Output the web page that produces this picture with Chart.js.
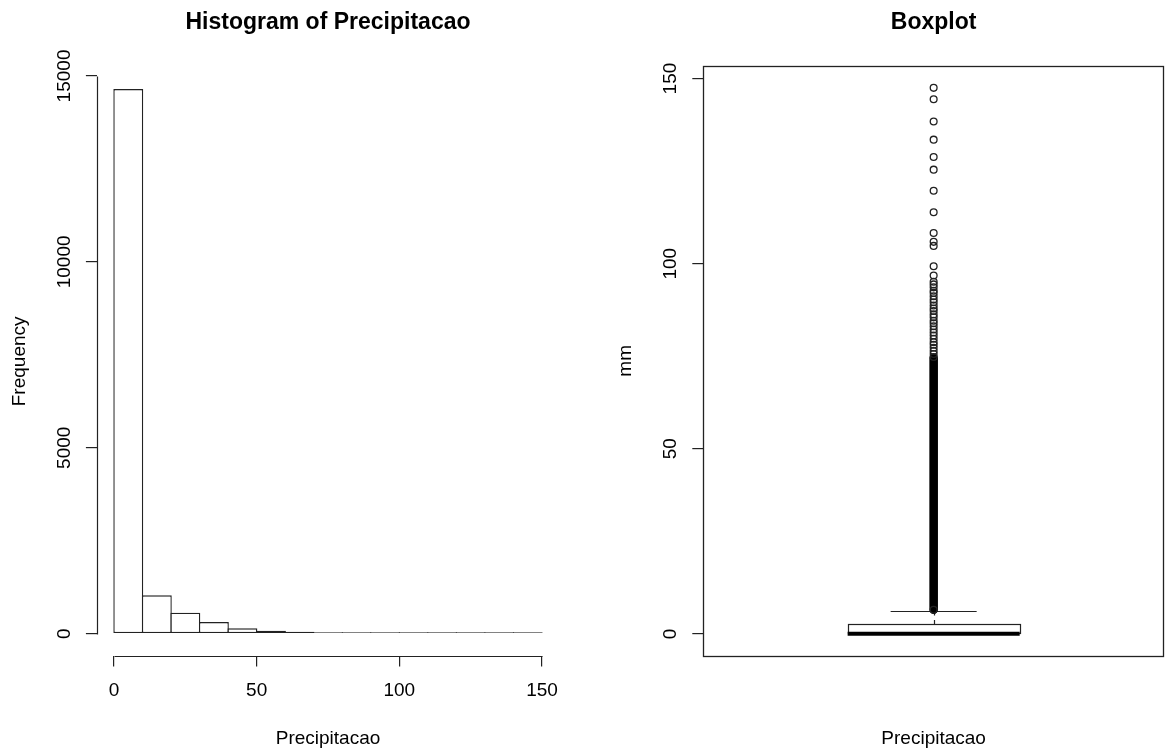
<!DOCTYPE html>
<html><head><meta charset="utf-8">
<script src="https://cdn.jsdelivr.net/npm/chart.js@4.4.0/dist/chart.umd.min.js"></script>
<style>
html,body{margin:0;padding:0;background:#fff;}
#wrap{position:relative;width:1165px;height:751px;background:#fff;}
canvas{position:absolute;top:0;}
#hist{left:0;} #box{left:582px;}
</style></head><body>
<div id="wrap"><canvas id="hist" width="582" height="751"></canvas><canvas id="box" width="583" height="751"></canvas></div>
<script>
// ---------------- data ----------------
const histBinEdges = [0,10,20,30,40,50,60,70,80,90,100,110,120,130,140,150];
const histCounts   = [14650,1035,567,315,145,80,52,28,22,17,12,2,6,2,2];
const histXTicks   = [0,50,100,150];
const histYTicks   = [0,5000,10000,15000];

const boxQuartiles = [0, 0, 2.55];   // Q1, median, Q3
const boxWhiskers  = [0, 6.2];       // lower, upper whisker ends
const boxOutliers  = [147.5,144.4,138.4,133.5,128.8,125.4,119.7,113.9,108.3,105.9,104.8,99.3,96.8,
                      95.1,94.4,93.6,92.7,92.1,91.2,90.3,89.6,88.7,87.9,87.2,86.3,85.5,84.6,83.9,
                      83.1,82.2,81.4,80.6,79.7,78.8,78.1,77.3,76.4,75.6,74.8,6.5];
const boxDenseOutlierRange = [6.5, 74.5]; // outliers so dense they form a solid column
const boxYTicks    = [0,50,100,150];
const boxGroupX    = 1;

// ---------------- helpers ----------------
const FONT = '"Liberation Sans", Arial, Helvetica, sans-serif';
Chart.defaults.font.family = FONT;
function txt(ctx, s, x, y, o) {
  o = o || {};
  ctx.save();
  ctx.translate(x, y);
  if (o.rot) ctx.rotate(o.rot);
  ctx.font = (o.bold ? 'bold ' : '') + (o.size || 19) + 'px ' + FONT;
  ctx.fillStyle = '#000';
  ctx.textAlign = 'center';
  ctx.textBaseline = 'alphabetic';
  ctx.fillText(s, 0, 0);
  ctx.restore();
}
const px = v => Math.round(v) + 0.5;
const tickGrid = {display:true, drawOnChartArea:false, drawTicks:true, tickLength:11, color:'#222', lineWidth:1.2};
const LINE = '#222';

// ---------------- histogram ----------------
const hMax = Math.max(...histCounts);
const hxSpan = histBinEdges[histBinEdges.length-1] - histBinEdges[0];
const histPlugin = {
  id: 'histDecor',
  afterDraw(chart) {
    const ctx = chart.ctx, ca = chart.chartArea, xs = chart.scales.x, ys = chart.scales.y;
    const cx = (ca.left + ca.right) / 2;
    txt(ctx, 'Histogram of Precipitacao', cx, 28.5, {size:23, bold:true});
    txt(ctx, 'Precipitacao', cx, 744);
    txt(ctx, 'Frequency', 25, (ca.top + ca.bottom) / 2, {rot:-Math.PI/2});
    histYTicks.forEach(v => txt(ctx, String(v), ca.left - 27, ys.getPixelForValue(v), {rot:-Math.PI/2}));
    ctx.save();
    ctx.strokeStyle = LINE; ctx.lineWidth = 1.2;
    ctx.beginPath();
    ctx.moveTo(px(ca.left), px(ys.getPixelForValue(histYTicks[0])));
    ctx.lineTo(px(ca.left), px(ys.getPixelForValue(histYTicks[histYTicks.length-1])));
    ctx.moveTo(px(xs.getPixelForValue(histXTicks[0])), px(ca.bottom));
    ctx.lineTo(px(xs.getPixelForValue(histXTicks[histXTicks.length-1])), px(ca.bottom));
    ctx.stroke();
    ctx.restore();
  }
};

new Chart(document.getElementById('hist'), {
  type: 'bar',
  data: {
    datasets: [{
      data: histCounts.map((c, i) => ({x: (histBinEdges[i] + histBinEdges[i+1]) / 2, y: c})),
      backgroundColor: '#fff',
      borderColor: LINE,
      borderWidth: 1.4,
      borderSkipped: false,
      barPercentage: 1.049,
      categoryPercentage: 1,
      minBarLength: 1.4,
      inflateAmount: 0
    }]
  },
  options: {
    responsive: false, animation: false, devicePixelRatio: 1,
    layout: {autoPadding: false, padding: {top: 67.2, right: 22.9, bottom: 0, left: 0}},
    plugins: {legend: {display:false}, tooltip: {enabled:false}, title: {display:false}},
    scales: {
      x: {
        type: 'linear', offset: false,
        min: histBinEdges[0] - 0.04 * hxSpan,
        max: histBinEdges[histBinEdges.length-1] + 0.04 * hxSpan,
        afterBuildTicks: s => { s.ticks = histXTicks.map(v => ({value: v})); },
        afterFit: s => { s.height = 95.5; },
        grid: Object.assign({offset:false}, tickGrid),
        border: {display:false},
        ticks: {color:'#000', font:{size:19, family:FONT}, padding:13, maxRotation:0, autoSkip:false,
                callback: v => String(v)}
      },
      y: {
        type: 'linear',
        min: -0.04 * hMax, max: 1.04 * hMax,
        afterBuildTicks: s => { s.ticks = histYTicks.map(v => ({value: v})); },
        afterFit: s => { s.width = 96.9; },
        grid: tickGrid,
        border: {display:false},
        ticks: {display:false}
      }
    }
  },
  plugins: [histPlugin]
});

// ---------------- boxplot ----------------
const bAll = boxOutliers.concat(boxWhiskers, boxQuartiles);
const bLo = Math.min(...bAll), bHi = Math.max(...bAll), bSpan = bHi - bLo;
const boxHalfWidth = 0.1867;

const boxPlugin = {
  id: 'boxDecor',
  beforeDatasetsDraw(chart) {
    const ctx = chart.ctx, xs = chart.scales.x, ys = chart.scales.y;
    const xl = xs.getPixelForValue(boxGroupX - boxHalfWidth);
    const xr = xs.getPixelForValue(boxGroupX + boxHalfWidth);
    const xc = xs.getPixelForValue(boxGroupX);
    const cl = xs.getPixelForValue(boxGroupX - boxHalfWidth / 2);
    const cr = xs.getPixelForValue(boxGroupX + boxHalfWidth / 2);
    const yq1 = ys.getPixelForValue(boxQuartiles[0]);
    const ymed = ys.getPixelForValue(boxQuartiles[1]);
    const yq3 = ys.getPixelForValue(boxQuartiles[2]);
    const ywl = ys.getPixelForValue(boxWhiskers[0]);
    const ywh = ys.getPixelForValue(boxWhiskers[1]);
    ctx.save();
    ctx.strokeStyle = LINE; ctx.lineWidth = 1.2;
    // whiskers (dashed)
    ctx.setLineDash([4.5, 4.5]);
    ctx.beginPath();
    ctx.moveTo(px(xc), yq3); ctx.lineTo(px(xc), ywh);
    ctx.moveTo(px(xc), yq1); ctx.lineTo(px(xc), ywl);
    ctx.stroke();
    ctx.setLineDash([]);
    // staples
    ctx.beginPath();
    ctx.moveTo(cl, px(ywh)); ctx.lineTo(cr, px(ywh));
    ctx.moveTo(cl, px(ywl)); ctx.lineTo(cr, px(ywl));
    ctx.stroke();
    // box
    ctx.fillStyle = '#fff';
    ctx.fillRect(xl, yq3, xr - xl, yq1 - yq3);
    ctx.strokeRect(px(xl), px(yq3), Math.round(xr - xl), Math.max(Math.round(yq1 - yq3), 0));
    // median
    ctx.strokeStyle = '#000';
    ctx.lineWidth = 4; ctx.lineCap = 'butt';
    ctx.beginPath(); ctx.moveTo(xl, ymed); ctx.lineTo(xr, ymed); ctx.stroke();
    // dense outlier column
    ctx.lineWidth = 8.6; ctx.lineCap = 'round';
    ctx.beginPath();
    ctx.moveTo(xc, ys.getPixelForValue(boxDenseOutlierRange[0]));
    ctx.lineTo(xc, ys.getPixelForValue(boxDenseOutlierRange[1]));
    ctx.stroke();
    ctx.restore();
  },
  afterDraw(chart) {
    const ctx = chart.ctx, ca = chart.chartArea, ys = chart.scales.y;
    const cx = (ca.left + ca.right) / 2;
    ctx.save();
    ctx.strokeStyle = LINE; ctx.lineWidth = 1.3;
    ctx.strokeRect(px(ca.left), px(ca.top), Math.round(ca.right - ca.left) - 1, Math.round(ca.bottom - ca.top));
    ctx.restore();
    txt(ctx, 'Boxplot', cx, 28.5, {size:23, bold:true});
    txt(ctx, 'Precipitacao', cx, 744);
    txt(ctx, 'mm', ca.left - 72.7, (ca.top + ca.bottom) / 2, {rot:-Math.PI/2});
    boxYTicks.forEach(v => txt(ctx, String(v), ca.left - 27.5, ys.getPixelForValue(v), {rot:-Math.PI/2}));
  }
};

new Chart(document.getElementById('box'), {
  type: 'scatter',
  data: {
    datasets: [{
      data: boxOutliers.map(v => ({x: boxGroupX, y: v})),
      pointStyle: 'circle',
      pointRadius: 3.4,
      pointBorderWidth: 1.3,
      pointBorderColor: LINE,
      pointBackgroundColor: 'rgba(0,0,0,0)',
      showLine: false
    }]
  },
  options: {
    responsive: false, animation: false, devicePixelRatio: 1,
    layout: {autoPadding: false, padding: {top: 66, right: 1, bottom: 95.3, left: 0}},
    plugins: {legend: {display:false}, tooltip: {enabled:false}, title: {display:false}},
    scales: {
      x: {type: 'linear', min: 0.5, max: 1.5, display: false},
      y: {
        type: 'linear',
        min: bLo - 0.04 * bSpan, max: bHi + 0.04 * bSpan,
        afterBuildTicks: s => { s.ticks = boxYTicks.map(v => ({value: v})); },
        afterFit: s => { s.width = 121.3; },
        grid: tickGrid,
        border: {display:false},
        ticks: {display:false}
      }
    }
  },
  plugins: [boxPlugin]
});
</script>
</body></html>
